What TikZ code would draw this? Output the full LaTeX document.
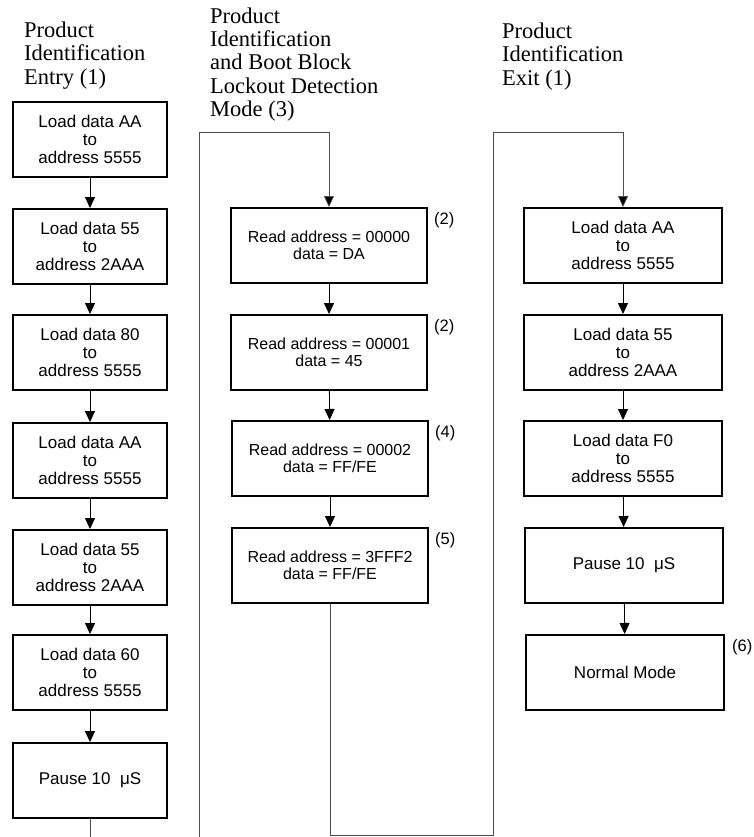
\documentclass[tikz,border=0pt]{standalone}
\usepackage{fontspec}
\setmainfont{Liberation Serif}
\newfontfamily\boxfont{Liberation Sans}
\usetikzlibrary{arrows.meta,calc}
\begin{document}
\begin{tikzpicture}[x=1pt,y=-1pt,
  stepbox/.style={draw=black, line width=1.8pt, inner sep=0pt, align=center, anchor=north, minimum height=75pt},
  loadbox/.style={stepbox, minimum width=154pt, font=\boxfont\fontsize{17}{18}\selectfont},
  readbox/.style={stepbox, minimum width=196pt, font=\boxfont\fontsize{16}{16.8}\selectfont},
  exitbox/.style={stepbox, minimum width=198pt, font=\boxfont\fontsize{17}{18}\selectfont},
  titletext/.style={inner sep=0pt, anchor=north west, align=left, font=\fontsize{22.5}{23.3}\selectfont},
  notetext/.style={inner sep=0pt, anchor=base west, font=\boxfont\fontsize{16.5}{18}\selectfont},
  flow/.style={line width=0.8pt, draw=black, -{Triangle[length=11pt,width=10pt]}},
  route/.style={line width=0.7pt, draw=black!70},
  routearrow/.style={route, -{Triangle[length=11pt,width=10pt,fill=black]}}
]
\useasboundingbox (0,0) rectangle (753,837);

% titles
\node[titletext] (t1) at (24,21.7) {Product\\Identification\\Entry (1)};
\node[titletext] (t2) at (210,7.3) {Product\\Identification\\and Boot Block\\Lockout Detection\\Mode (3)};
\node[titletext] (t3) at (502,22.7) {Product\\Identification\\Exit (1)};

% left column
\node[loadbox] (l1) at (90,101) {Load data AA\\to\\address 5555};
\node[loadbox] (l2) at (90,208) {Load data 55\\to\\address 2AAA};
\node[loadbox] (l3) at (90,314) {Load data 80\\to\\address 5555};
\node[loadbox] (l4) at (90,422) {Load data AA\\to\\address 5555};
\node[loadbox] (l5) at (90,529) {Load data 55\\to\\address 2AAA};
\node[loadbox] (l6) at (90,634) {Load data 60\\to\\address 5555};
\node[loadbox] (l7) at (90,742) {Pause 10~ μS};

% middle column
\node[readbox] (m1) at (329,207) {Read address = 00000\\data = DA};
\node[readbox] (m2) at (329,314) {Read address = 00001\\data = 45};
\node[readbox] (m3) at (330,420) {Read address = 00002\\data = FF/FE};
\node[readbox] (m4) at (330,527) {Read address = 3FFF2\\data = FF/FE};

\node[notetext] (n1) at ($(m1.north east)+(6,17)$) {(2)};
\node[notetext] (n2) at ($(m2.north east)+(6,17)$) {(2)};
\node[notetext] (n3) at ($(m3.north east)+(6,17)$) {(4)};
\node[notetext] (n4) at ($(m4.north east)+(6,17)$) {(5)};

% right column
\node[exitbox] (r1) at (623,207) {Load data AA\\to\\address 5555};
\node[exitbox] (r2) at (623,314) {Load data 55\\to\\address 2AAA};
\node[exitbox] (r3) at (623,420) {Load data F0\\to\\address 5555};
\node[exitbox] (r4) at (624,527) {Pause 10~ μS};
\node[exitbox] (r5) at (625,634) {Normal Mode};
\node[notetext] (n6) at ($(r5.north east)+(7,17)$) {(6)};

% arrows within columns
\draw[flow] (l1) -- (l2);
\draw[flow] (l2) -- (l3);
\draw[flow] (l3) -- (l4);
\draw[flow] (l4) -- (l5);
\draw[flow] (l5) -- (l6);
\draw[flow] (l6) -- (l7);
\draw[flow] (m1) -- (m2);
\draw[flow] (m2) -- (m3);
\draw[flow] (m3) -- (m4);
\draw[flow] (r1) -- (r2);
\draw[flow] (r2) -- (r3);
\draw[flow] (r3) -- (r4);
\draw[flow] (r4) -- (r5);

% routing connectors
\coordinate (lend) at (l7.south |- 0,837);
\draw[route] (l7.south) -- (lend);

\coordinate (mstart) at (199,837);
\coordinate (mtop) at (199,132);
\draw[routearrow] (mstart) -- (mtop) -| (m1.north);

\coordinate (mbot) at (m4.south |- 0,835);
\coordinate (rbot) at (493,835);
\coordinate (rtop) at (493,132);
\draw[routearrow] (m4.south) -- (mbot) -- (rbot) -- (rtop) -| (r1.north);
\end{tikzpicture}
\end{document}
